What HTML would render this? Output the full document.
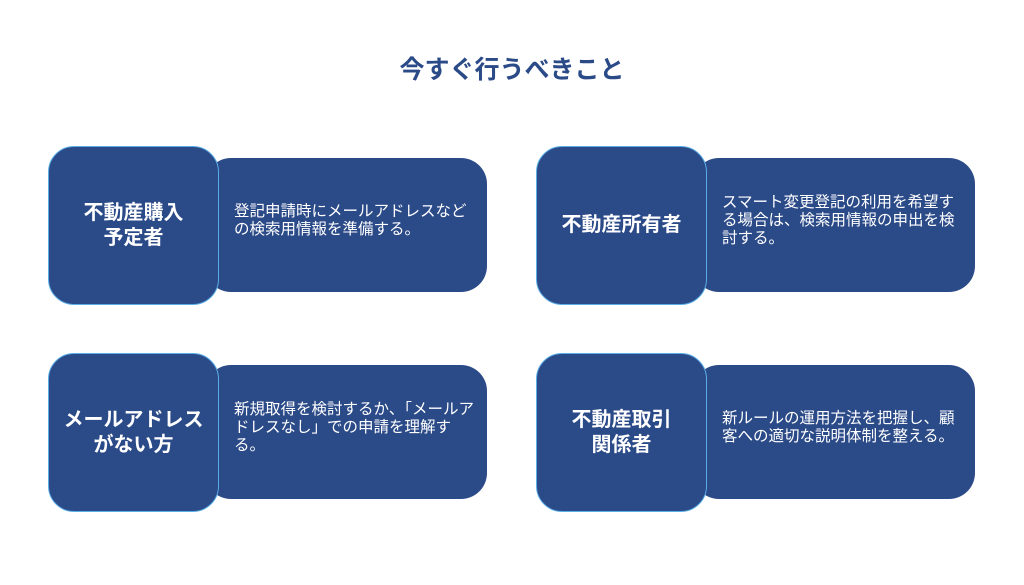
<!DOCTYPE html>
<html><head><meta charset="utf-8"><style>
body{margin:0;width:1024px;height:585px;background:#fff;position:relative;overflow:hidden;font-family:"Liberation Sans","Noto Sans CJK JP",sans-serif}
.t{position:absolute;top:50px;left:0;width:1024px;text-align:center;font-size:25px;font-weight:bold;color:#2b4a88}
.r{position:absolute;background:#2b4a88;border-radius:26px;color:#fff}
.s{position:absolute;width:169px;height:157px;background:#2b4a88;border:1.5px solid #5aaee8;border-radius:26px;color:#fff;display:flex;align-items:center;justify-content:center;text-align:center;font-weight:bold;font-size:20px;line-height:25px;box-sizing:content-box}
.r div{position:absolute;left:29px;top:0;bottom:0;display:flex;align-items:center;font-size:15.5px;line-height:18px;width:245px;padding-bottom:8px;white-space:nowrap}
</style></head><body>
<div class="t">今すぐ行うべきこと</div>

<div class="r" style="left:205px;top:158px;width:282px;height:134px"><div>登記申請時にメールアドレスなど<br>の検索用情報を準備する。</div></div>
<div class="s" style="left:48px;top:146px">不動産購入<br>予定者</div>

<div class="r" style="left:693px;top:158px;width:282px;height:134px"><div>スマート変更登記の利用を希望す<br>る場合は、検索用情報の申出を検<br>討する。</div></div>
<div class="s" style="left:536px;top:146px">不動産所有者</div>

<div class="r" style="left:205px;top:365px;width:282px;height:134px"><div>新規取得を検討するか、「メールア<br>ドレスなし」での申請を理解す<br>る。</div></div>
<div class="s" style="left:48px;top:353px">メールアドレス<br>がない方</div>

<div class="r" style="left:693px;top:365px;width:282px;height:134px"><div>新ルールの運用方法を把握し、顧<br>客への適切な説明体制を整える。</div></div>
<div class="s" style="left:536px;top:353px">不動産取引<br>関係者</div>
</body></html>
